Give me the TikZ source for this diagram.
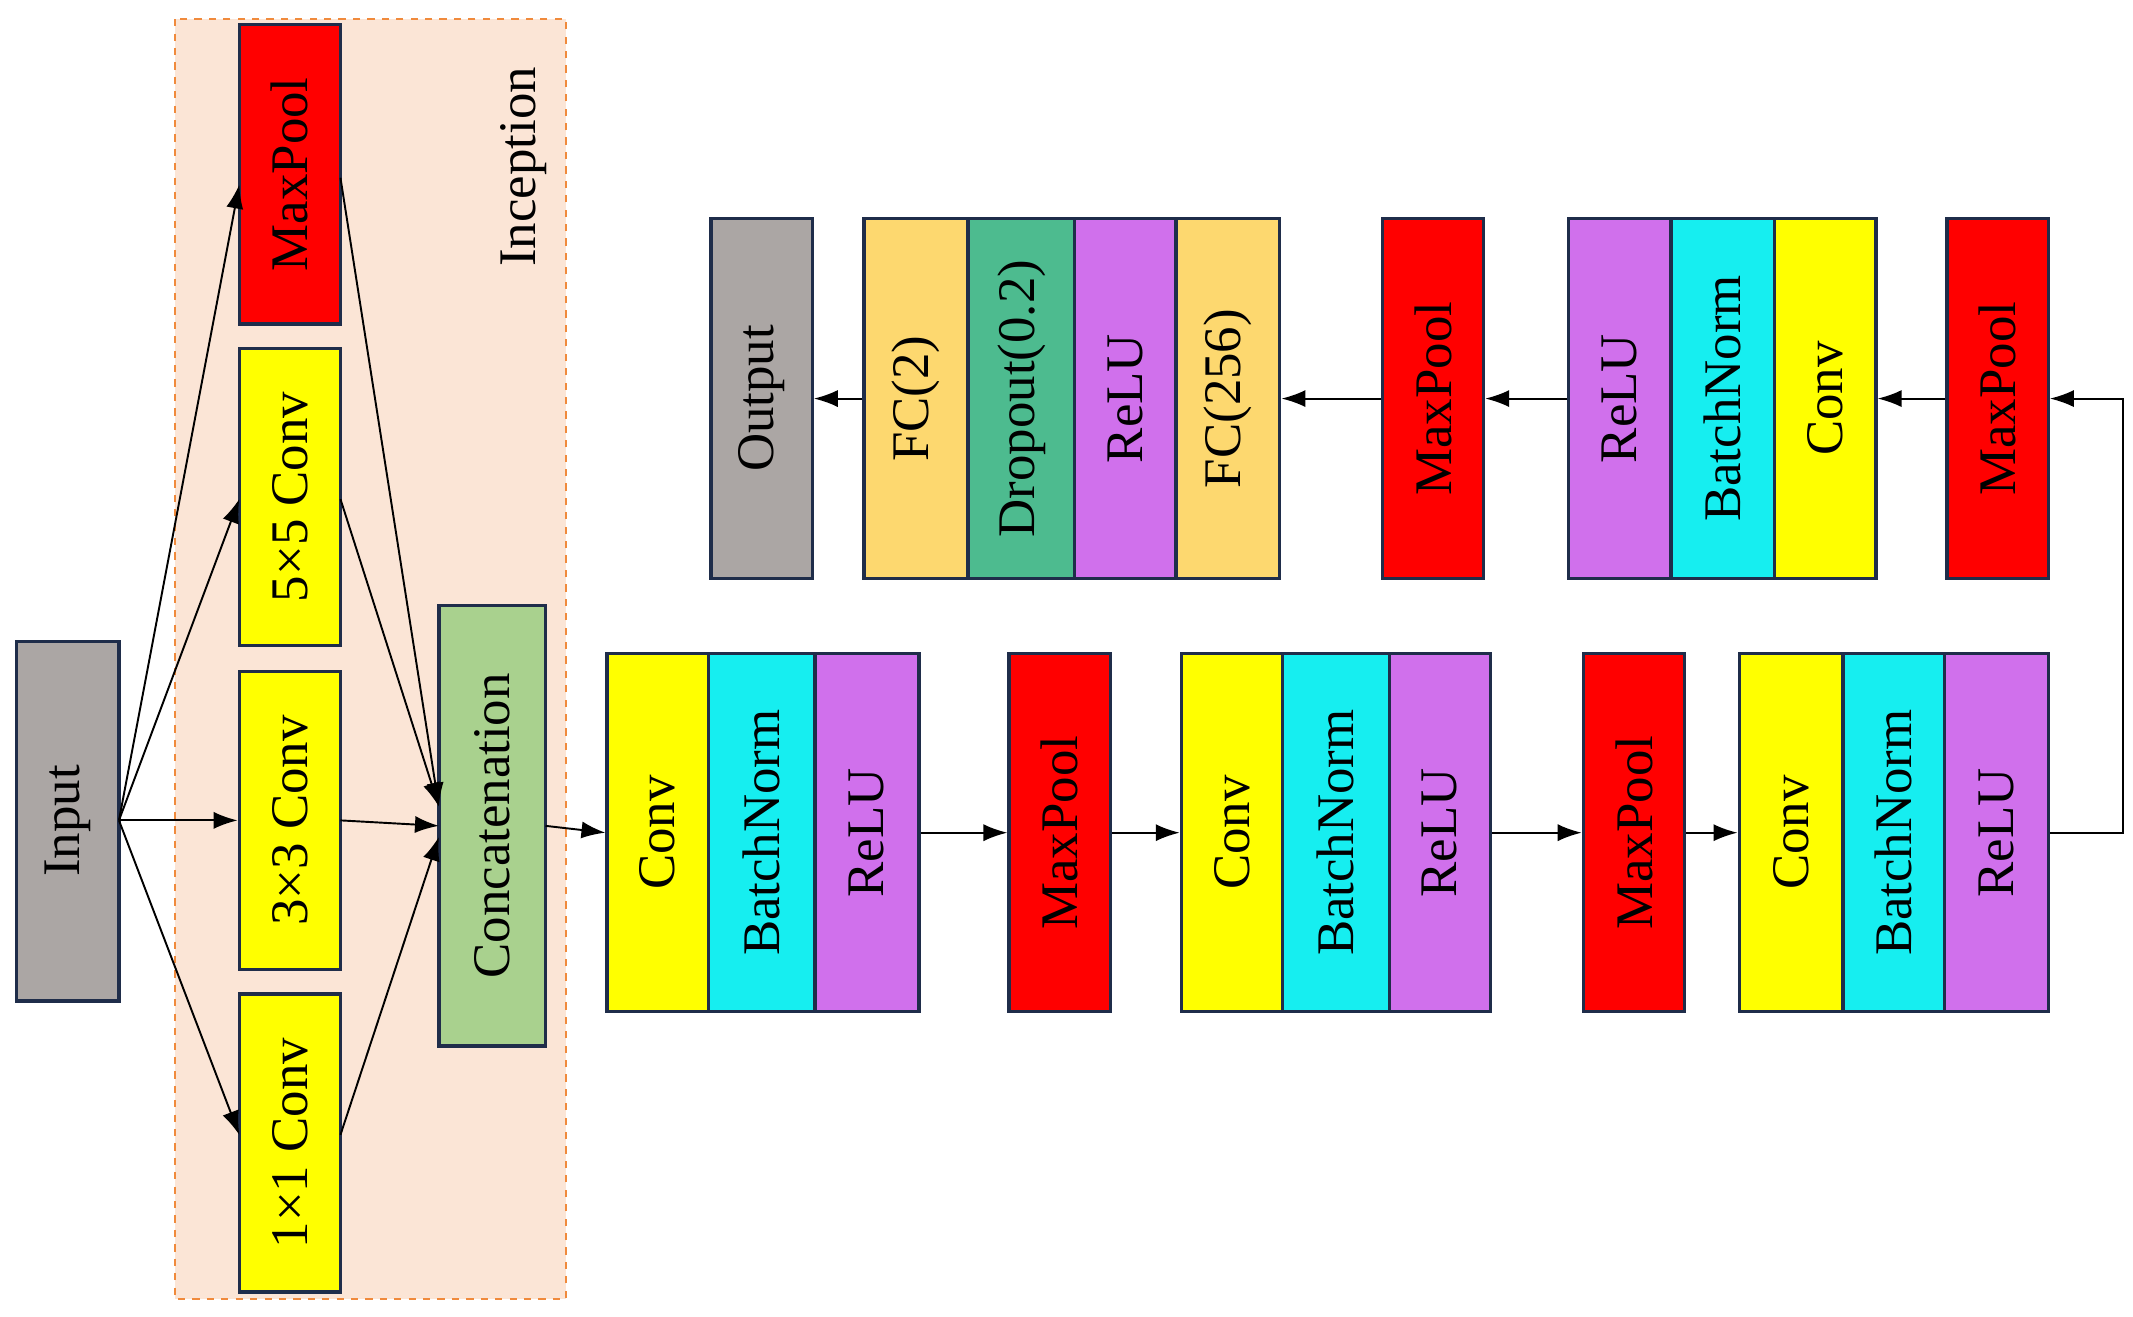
\documentclass[tikz,border=0pt]{standalone}
\usepackage{fontspec}
\setmainfont{Liberation Serif}
\usetikzlibrary{arrows.meta}
\definecolor{bd}{HTML}{1F2D4A}
\definecolor{cy}{HTML}{FFFF00}
\definecolor{cc}{HTML}{16EEF0}
\definecolor{cp}{HTML}{D070EC}
\definecolor{cr}{HTML}{FF0000}
\definecolor{cg}{HTML}{ABA6A4}
\definecolor{cf}{HTML}{FDD86F}
\definecolor{cd}{HTML}{4DBB8F}
\definecolor{cn}{HTML}{A9D18E}
\definecolor{pe}{HTML}{FBE5D6}
\definecolor{po}{HTML}{F08A3C}
\newcommand\blk[7]{\node[blk,fill=#6,minimum width={(#4-#2)*0.02cm},minimum height={(#5-#3)*0.02cm}] (#1) at ({(#2+#4)/2},{(#3+#5)/2}) {\rotatebox{90}{#7}};}
\begin{document}
\begin{tikzpicture}[x=0.02cm,y=-0.02cm,
 blk/.style={draw=bd,line width=1.4pt,inner sep=0pt,font=\fontsize{22}{24}\selectfont},
 ar/.style={-{Latex[length=0.35cm,width=0.25cm]},line width=0.8pt}]
\useasboundingbox (0,0) rectangle (1560,963);
\draw[po,fill=pe,dashed,line width=1pt] (128,14) rectangle (414,950);
\node[font=\fontsize{22}{24}\selectfont,rotate=90] (inc) at (383,122) {Inception};
\blk{in}{12}{469}{87}{732}{cg}{Input}
\blk{mp0}{175}{18}{249}{237}{cr}{MaxPool}
\blk{c5}{175}{255}{249}{472}{cy}{5×5 Conv}
\blk{c3}{175}{491}{249}{709}{cy}{3×3 Conv}
\blk{c1}{175}{727}{249}{945}{cy}{1×1 Conv}
\blk{cat}{321}{443}{399}{765}{cn}{Concatenation}
\blk{a1}{444}{478}{518}{740}{cy}{Conv}
\blk{a2}{518}{478}{596}{740}{cc}{BatchNorm}
\blk{a3}{596}{478}{672}{740}{cp}{ReLU}
\blk{m1}{738}{478}{812}{740}{cr}{MaxPool}
\blk{b1}{864}{478}{938}{740}{cy}{Conv}
\blk{b2}{938}{478}{1016}{740}{cc}{BatchNorm}
\blk{b3}{1016}{478}{1090}{740}{cp}{ReLU}
\blk{m2}{1158}{478}{1232}{740}{cr}{MaxPool}
\blk{d1}{1272}{478}{1348}{740}{cy}{Conv}
\blk{d2}{1348}{478}{1422}{740}{cc}{BatchNorm}
\blk{d3}{1422}{478}{1498}{740}{cp}{ReLU}
\blk{out}{520}{160}{594}{423}{cg}{Output}
\blk{f2}{632}{160}{708}{423}{cf}{FC(2)}
\blk{dr}{708}{160}{786}{423}{cd}{Dropout(0.2)}
\blk{r1}{786}{160}{860}{423}{cp}{ReLU}
\blk{f256}{860}{160}{936}{423}{cf}{FC(256)}
\blk{m4}{1011}{160}{1085}{423}{cr}{MaxPool}
\blk{e3}{1147}{160}{1222}{423}{cp}{ReLU}
\blk{e2}{1222}{160}{1298}{423}{cc}{BatchNorm}
\blk{e1}{1298}{160}{1372}{423}{cy}{Conv}
\blk{m3}{1424}{160}{1498}{423}{cr}{MaxPool}
\coordinate (src) at (87,600);
\coordinate (t1) at (321,590);
\coordinate (t2) at (321,604);
\coordinate (t3) at (321,612);
\draw[ar] (src) -- (175,135);
\draw[ar] (src) -- (175,365);
\draw[ar] (src) -- (c3.west);
\draw[ar] (src) -- (175,830);
\draw[ar] (249,130) -- (t1);
\draw[ar] (249,365) -- (t1);
\draw[ar] (249,600) -- (t2);
\draw[ar] (249,830) -- (t3);
\draw[ar] (399,604) -- (a1.west);
\draw[ar] (a3.east) -- (m1.west);
\draw[ar] (m1.east) -- (b1.west);
\draw[ar] (b3.east) -- (m2.west);
\draw[ar] (m2.east) -- (d1.west);
\coordinate (k) at (1553,609);
\draw[ar] (d3.east) -- (k) |- (m3.east);
\draw[ar] (m3.west) -- (e1.east);
\draw[ar] (e3.west) -- (m4.east);
\draw[ar] (m4.west) -- (f256.east);
\draw[ar] (f2.west) -- (out.east);
\end{tikzpicture}
\end{document}
